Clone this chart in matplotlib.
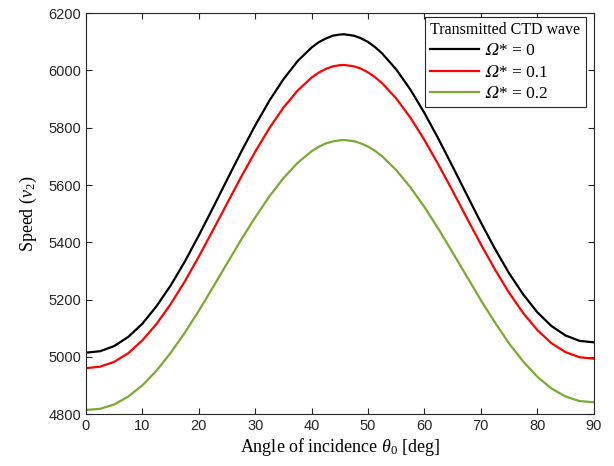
import matplotlib
matplotlib.use('Agg')
import matplotlib.pyplot as plt
import numpy as np

# Angle of incidence (deg) and speeds
theta = [0, 2.5, 5, 7.5, 10, 12.5, 15, 17.5, 20, 22.5, 25, 27.5, 30, 32.5,
         35, 37.5, 40, 41.25, 42.5, 43.75, 45, 45.7, 47.5, 48.75, 50, 51.25,
         52.5, 55, 57.5, 60, 62.5, 65, 67.5, 70, 72.5, 75, 77.5, 80, 82.5,
         85, 87.5, 90]

v_omega0 = [5015, 5020, 5038, 5070, 5116, 5177, 5249, 5332, 5424, 5520,
            5618, 5715, 5808, 5894, 5969, 6032, 6080, 6098, 6111, 6121,
            6125, 6126, 6121, 6112, 6099, 6081, 6059, 6003, 5933, 5851,
            5760, 5664, 5566, 5469, 5377, 5292, 5218, 5156, 5108, 5075,
            5056, 5051]
v_omega01 = [4961, 4966, 4983, 5013, 5058, 5115, 5184, 5263, 5350, 5442,
             5535, 5628, 5716, 5798, 5870, 5929, 5975, 5992, 6005, 6014,
             6018, 6019, 6014, 6006, 5993, 5976, 5955, 5902, 5835, 5757,
             5670, 5579, 5485, 5393, 5305, 5224, 5153, 5094, 5048, 5017,
             4999, 4994]
v_omega02 = [4815, 4819, 4834, 4862, 4901, 4952, 5014, 5084, 5161, 5243,
             5326, 5409, 5487, 5560, 5624, 5677, 5718, 5733, 5745, 5752,
             5756, 5757, 5753, 5745, 5734, 5719, 5700, 5652, 5592, 5523,
             5446, 5364, 5281, 5198, 5120, 5047, 4984, 4931, 4890, 4862,
             4846, 4842]

# italic capital omega (U+1D6FA)
labels = ['\U0001D6FA* = 0', '\U0001D6FA* = 0.1', '\U0001D6FA* = 0.2']
colors = ['black', '#FF0000', '#77AC30']

plt.rcParams['mathtext.fontset'] = 'custom'
plt.rcParams['mathtext.rm'] = 'Liberation Serif'
plt.rcParams['mathtext.it'] = 'Liberation Serif:italic'

fig = plt.figure(figsize=(6.14, 4.66), dpi=100)
ax = fig.add_axes([0.140, 0.111, 0.827, 0.861])

for y, lab, c in zip([v_omega0, v_omega01, v_omega02], labels, colors):
    ax.plot(theta, y, color=c, linewidth=1.6, label=lab)

ax.set_xlim(0, 90)
ax.set_ylim(4800, 6200)
ax.set_xticks(np.arange(0, 91, 10))
ax.set_yticks(np.arange(4800, 6201, 200))
ax.tick_params(direction='in', top=True, right=True, length=4, width=0.8,
               colors='#262626', labelsize=10.5)
for lbl in ax.get_xticklabels() + ax.get_yticklabels():
    lbl.set_family('Liberation Sans')
for s in ax.spines.values():
    s.set_color('#262626')
    s.set_linewidth(0.8)

ax.set_xlabel(r'Angle of incidence $\theta_0$ [deg]', fontsize=13,
              family='Liberation Serif', labelpad=2)
ax.set_ylabel(r'Speed ($v_2$)', fontsize=13, family='Liberation Serif', labelpad=7)

leg = ax.legend(title='Transmitted CTD wave', loc='upper right',
                bbox_to_anchor=(0.984, 0.9905), borderaxespad=0,
                fancybox=False, framealpha=1,
                edgecolor='#262626', handlelength=2.8, borderpad=0.3,
                labelspacing=0.3, handletextpad=0.35,
                prop={'family': ['Liberation Serif', 'STIXGeneral', 'DejaVu Serif'],
                      'size': 12.5})
leg._legend_box.align = 'left'
leg.get_title().set_family('Liberation Serif')
leg.get_title().set_fontsize(11.5)
leg.get_frame().set_linewidth(0.8)

fig.savefig('out.png', dpi=100)
